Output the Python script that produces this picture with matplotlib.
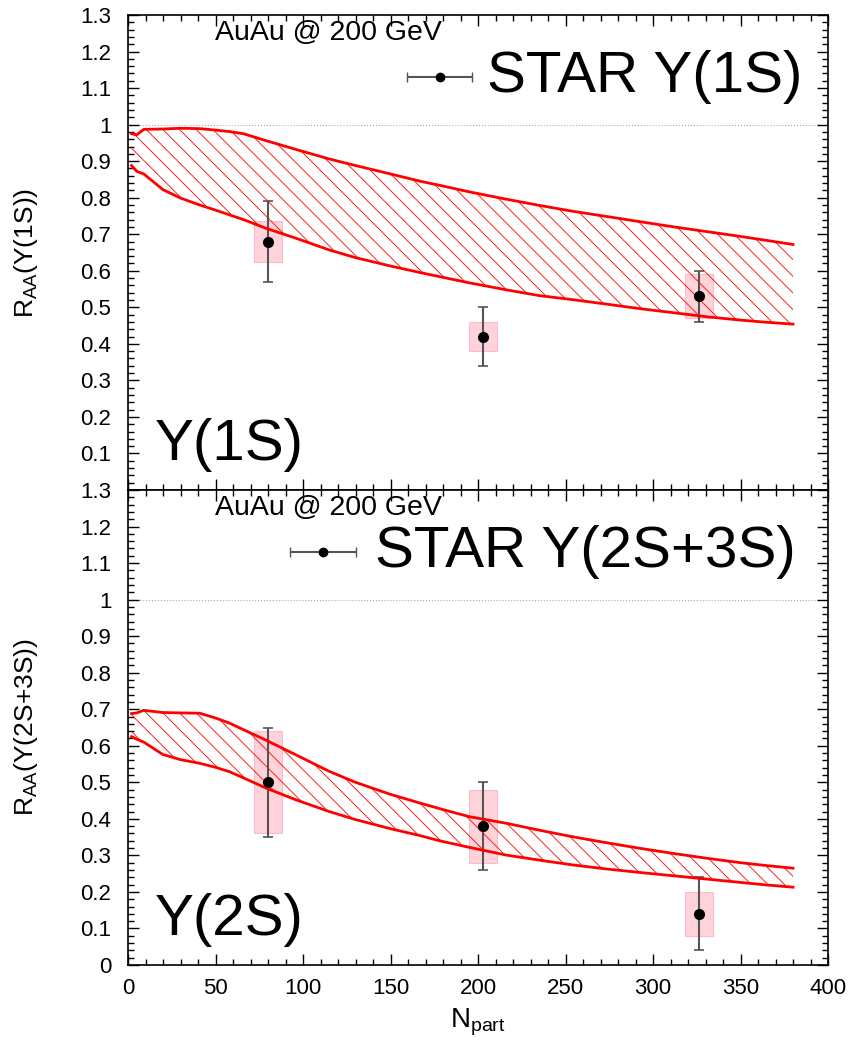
import numpy as np
import matplotlib
matplotlib.use("Agg")
import matplotlib.pyplot as plt
from matplotlib.ticker import MultipleLocator, FormatStrFormatter

plt.rcParams['font.family'] = ['Liberation Sans', 'DejaVu Sans']
plt.rcParams['mathtext.fontset'] = 'custom'
plt.rcParams['mathtext.rm'] = 'Liberation Sans'
plt.rcParams['mathtext.it'] = 'Liberation Sans:italic'
plt.rcParams['hatch.linewidth'] = 0.6

# theory band (common Npart grid)
npart_band = [2, 5, 9, 20, 30, 41, 50, 58, 66, 79, 96, 115, 130, 150, 167,
              178, 195, 216, 235, 254, 273, 293, 312, 331, 350, 365, 380]
upper_1s = [0.975, 0.972, 0.987, 0.988, 0.990, 0.989, 0.985, 0.981, 0.975,
            0.956, 0.932, 0.906, 0.888, 0.865, 0.845, 0.834, 0.816, 0.796,
            0.779, 0.763, 0.749, 0.734, 0.720, 0.707, 0.694, 0.683, 0.672]
lower_1s = [0.888, 0.872, 0.865, 0.822, 0.799, 0.780, 0.766, 0.753, 0.740,
            0.716, 0.689, 0.657, 0.636, 0.613, 0.595, 0.584, 0.567, 0.548,
            0.532, 0.521, 0.509, 0.496, 0.485, 0.474, 0.465, 0.459, 0.454]
upper_2s = [0.688, 0.690, 0.697, 0.691, 0.690, 0.689, 0.676, 0.662, 0.644,
            0.615, 0.575, 0.530, 0.500, 0.467, 0.443, 0.428, 0.406, 0.388,
            0.369, 0.351, 0.335, 0.319, 0.305, 0.292, 0.280, 0.272, 0.265]
lower_2s = [0.625, 0.618, 0.610, 0.576, 0.562, 0.552, 0.541, 0.529, 0.512,
            0.484, 0.452, 0.420, 0.398, 0.373, 0.354, 0.340, 0.322, 0.301,
            0.287, 0.274, 0.263, 0.253, 0.244, 0.235, 0.226, 0.219, 0.213]

# STAR data
npart = [80, 203, 326]
box_halfwidth = 8
raa_1s = [0.68, 0.42, 0.53]
stat_1s = [0.11, 0.08, 0.07]
sys_1s = [0.055, 0.04, 0.06]
raa_2s = [0.50, 0.38, 0.14]
stat_2s = [0.15, 0.12, 0.10]
sys_2s = [0.14, 0.10, 0.06]

W, H = 856, 1044
fig = plt.figure(figsize=(W/100, H/100), dpi=100)
ax1 = fig.add_axes([128/W, 1-490/H, 700/W, 475/H])
ax2 = fig.add_axes([128/W, 1-965/H, 700/W, 475/H])

panels = [
    (ax1, upper_1s, lower_1s, raa_1s, stat_1s, sys_1s, "STAR Υ(1S)", "Υ(1S)",
     r"R$_{\rm AA}$(Υ(1S))", (0.3986, 0.4914), 0.513),
    (ax2, upper_2s, lower_2s, raa_2s, stat_2s, sys_2s, "STAR Υ(2S+3S)", "Υ(2S)",
     r"R$_{\rm AA}$(Υ(2S+3S))", (0.2314, 0.3257), 0.353),
]

for ax, up, lo, raa, stat, sysr, leg, tag, ylab, keyx, legx in panels:
    ax.fill_between(npart_band, lo, up, facecolor='none', edgecolor='red',
                    hatch='\\\\', linewidth=0, zorder=2)
    ax.plot(npart_band, up, color='red', lw=2.0, zorder=4)
    ax.plot(npart_band, lo, color='red', lw=2.0, zorder=4)
    for x, y, s in zip(npart, raa, sysr):
        ax.add_patch(plt.Rectangle((x - box_halfwidth, y - s), 2*box_halfwidth, 2*s,
                                   facecolor='#ffb6c1', edgecolor='#f5a0b0',
                                   alpha=0.6, lw=0.8, zorder=1))
    ax.errorbar(npart, raa, yerr=stat, fmt='none', ecolor='#555555',
                elinewidth=1.5, capsize=3.5, capthick=1.2, zorder=3)
    ax.plot(npart, raa, 'o', color='black', ms=7, zorder=5)
    ax.axhline(1.0, color='#aaaaaa', ls=':', lw=0.8, zorder=0)

    ax.set_xlim(0, 400)
    ax.set_ylim(0, 1.3)
    ax.xaxis.set_major_locator(MultipleLocator(50))
    ax.xaxis.set_minor_locator(MultipleLocator(10))
    ax.yaxis.set_major_locator(MultipleLocator(0.1))
    ax.yaxis.set_minor_locator(MultipleLocator(0.02))
    ax.yaxis.set_major_formatter(FormatStrFormatter('%g'))
    ax.tick_params(which='both', direction='in', top=True, right=True,
                   labelsize=16, width=1)
    ax.tick_params(axis='y', pad=12)
    ax.tick_params(axis='x', pad=9)
    ax.tick_params(which='major', length=8)
    ax.tick_params(which='minor', length=4)
    for sp in ax.spines.values():
        sp.set_linewidth(1.2)
    ax.set_ylabel(ylab, fontsize=19)
    ax.yaxis.set_label_coords(-0.125, 0.5)

    ax.text(0.1243, 0.962, "AuAu @ 200 GeV", transform=ax.transAxes,
            fontsize=20.5, va='center', ha='left')
    # legend key
    ky = 0.870
    ax.errorbar([(keyx[0] + keyx[1]) / 2], [ky], xerr=[(keyx[1] - keyx[0]) / 2],
                transform=ax.transAxes, fmt='o', color='black', ms=6,
                ecolor='#555555', elinewidth=1.5, capsize=3.5, clip_on=False)
    ax.text(legx, ky, leg, transform=ax.transAxes, fontsize=42,
            va='center', ha='left')
    ax.text(0.038, 0.095, tag, transform=ax.transAxes, fontsize=42,
            va='center', ha='left')

ax1.tick_params(labelbottom=False)
ax1.set_yticks([0.1*i for i in range(1, 14)])
ax1.yaxis.set_major_formatter(FormatStrFormatter('%g'))
ax2.xaxis.set_major_formatter(FormatStrFormatter('%d'))
ax2.set_xlabel(r"N$_{\rm part}$", fontsize=20, labelpad=6)

fig.savefig("out.png", dpi=100)
